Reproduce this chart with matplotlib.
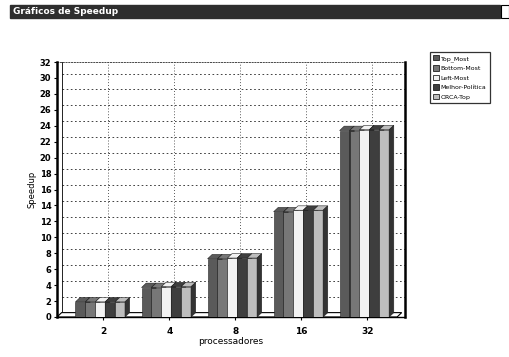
import matplotlib
matplotlib.use("Agg")
import matplotlib.pyplot as plt
from matplotlib.patches import Rectangle, Polygon
import numpy as np

# data
procs = ['2', '4', '8', '16', '32']
series = ['Top_Most', 'Bottom-Most', 'Left-Most', 'Melhor-Política', 'ORCA-Top']
top_most = [1.9, 3.7, 7.3, 13.2, 23.4]
bottom_most = [1.9, 3.7, 7.3, 13.2, 23.4]
left_most = [1.9, 3.8, 7.4, 13.4, 23.5]
melhor = [1.9, 3.8, 7.4, 13.4, 23.5]
orca_top = [1.9, 3.8, 7.4, 13.4, 23.5]
values = [top_most, bottom_most, left_most, melhor, orca_top]
colors = ['#5a5a5a', '#777777', '#f2f2f2', '#3e3e3e', '#bdbdbd']

fig = plt.figure(figsize=(5.09, 3.57), dpi=100)
fig.patch.set_facecolor('white')

# window title bar
fig.patches.append(Rectangle((10 / 509, 1 - 18 / 357), 490 / 509, 13 / 357,
                             transform=fig.transFigure, color='#2e2e2e', zorder=0))
fig.text(13 / 509, 1 - 12 / 357, 'Gráficos de Speedup', color='white',
         fontsize=6.5, fontweight='bold', va='center', ha='left')
fig.patches.append(Rectangle((501 / 509, 1 - 18 / 357), 8 / 509, 13 / 357,
                             transform=fig.transFigure, facecolor='white',
                             edgecolor='black', lw=0.8))

ax = fig.add_axes([57 / 509, 1 - 317 / 357, 348 / 509, 255 / 357])
ax.set_xlim(-0.7, 4.57)
ax.set_ylim(0, 32)

x = np.arange(len(procs))
w = 0.15
ddx = 0.07   # fake depth
ddy = 0.55

# back-wall grid (offset by the depth)
for yy in range(2, 33, 2):
    ax.plot([-0.7 + ddx, 4.57], [yy + ddy, yy + ddy], ls=(0, (2, 3)), color='#222222', lw=0.6, zorder=1)
for xx in x:
    ax.plot([xx + ddx, xx + ddx], [ddy, 32], ls=(0, (1, 2.5)), color='#222222', lw=0.6, zorder=1)
ax.plot([-0.7 + ddx, -0.7 + ddx], [ddy, 32], color='black', lw=0.6, zorder=1)

# floor
ax.add_patch(Polygon([[-0.7, 0], [4.45, 0], [4.45 + ddx, ddy], [-0.7 + ddx, ddy]],
                     closed=True, facecolor='white', edgecolor='black', lw=0.8, zorder=1))

for i, (vals, c) in enumerate(zip(values, colors)):
    offs = x - 2 * w + i * w - 0.12
    for xo, v in zip(offs, vals):
        ax.add_patch(Rectangle((xo, 0), w, v, facecolor=c, edgecolor='#222222', lw=0.4, zorder=3 + i))
        ax.add_patch(Polygon([[xo, v], [xo + w, v], [xo + w + ddx, v + ddy], [xo + ddx, v + ddy]],
                             closed=True, facecolor=c, edgecolor='#222222', lw=0.4, zorder=3 + i))
        ax.add_patch(Polygon([[xo + w, 0], [xo + w + ddx, ddy], [xo + w + ddx, v + ddy], [xo + w, v]],
                             closed=True, facecolor='#333333', edgecolor='#222222', lw=0.4, zorder=3 + i))

ax.set_yticks(range(0, 33, 2))
ax.set_yticklabels([str(t) for t in range(0, 33, 2)], fontsize=6, fontweight='bold')
ax.set_xticks(x)
ax.set_xticklabels(procs, fontsize=6.5, fontweight='bold')
ax.tick_params(length=2, width=0.8, pad=2)
ax.tick_params(axis='x', pad=5)

ax.spines['left'].set_linewidth(1.8)
ax.spines['bottom'].set_linewidth(1.0)
ax.spines['right'].set_linewidth(1.8)
ax.spines['top'].set_linewidth(0.5)
ax.spines['top'].set_linestyle((0, (2, 2)))

ax.set_ylabel('Speedup', fontsize=6)
ax.yaxis.set_label_coords(-0.06, 0.5)
ax.set_xlabel('processadores', fontsize=6.5)
ax.xaxis.set_label_coords(0.5, -0.08)

handles = [Rectangle((0, 0), 1, 1, facecolor=c, edgecolor='black', lw=0.5) for c in colors]
leg = fig.legend(handles, series, loc='upper left', bbox_to_anchor=(430 / 509, 1 - 52 / 357),
                 fontsize=4.5, frameon=True, fancybox=False, borderpad=0.5, labelspacing=0.6,
                 handlelength=0.9, handleheight=0.9, handletextpad=0.3, borderaxespad=0)
leg.get_frame().set_edgecolor('black')
leg.get_frame().set_linewidth(0.9)

fig.savefig('out.png', dpi=100)
